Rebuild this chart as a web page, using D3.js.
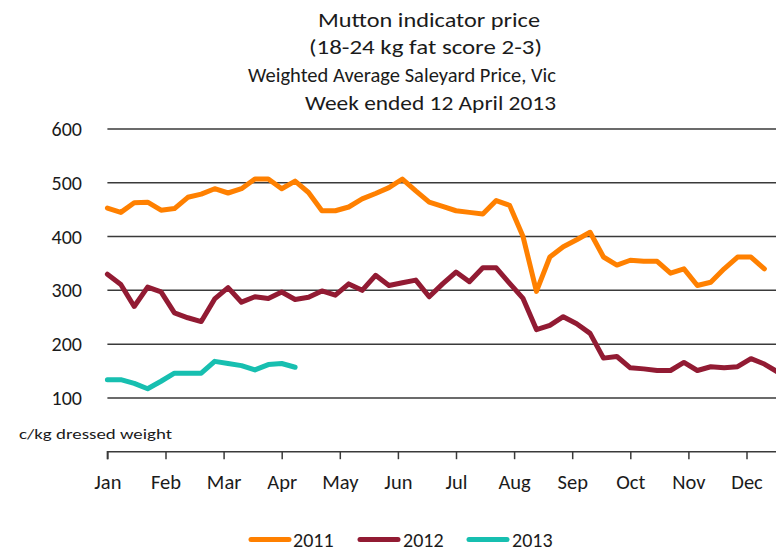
<!DOCTYPE html>
<html>
<head>
<meta charset="utf-8">
<script src="https://cdn.jsdelivr.net/npm/d3@7"></script>
<style>
  html, body { margin: 0; padding: 0; background: #fff; }
  svg { display: block; }
  text { font-family: Carlito, Lato, "Liberation Sans", sans-serif; fill: #1b1b1b; }
</style>
</head>
<body>
<svg id="chart" width="776" height="555"></svg>
<script>
// ---- Data (c/kg dressed weight, weekly) ----
const months = ["Jan","Feb","Mar","Apr","May","Jun","Jul","Aug","Sep","Oct","Nov","Dec"];
const yTicks = [100, 200, 300, 400, 500, 600];
const titleLines = [
  "Mutton indicator price",
  "(18-24 kg fat score 2-3)",
  "Weighted Average Saleyard Price, Vic",
  "Week ended 12 April 2013"
];
const seriesNames = ["2011", "2012", "2013"];
const values2011 = [453,445,463,464,449,452,473,479,489,481,489,507,507,489,503,482,448,448,455,470,
                    480,491,507,485,464,456,448,445,442,467,458,400,298,362,381,394,408,362,347,356,
                    354,354,332,340,309,315,340,362,362,340];
const values2012 = [330,311,270,306,297,258,249,242,284,305,278,288,285,297,283,287,299,291,312,300,
                    328,309,314,319,288,312,334,316,342,342,313,285,227,235,251,238,220,174,177,156,
                    154,151,151,166,151,158,156,158,173,163,148];
const values2013 = [134,134,127,117,131,146,146,146,168,164,160,152,162,164,157];
const colors = ["#ff8000", "#921b33", "#17bfb0"];

// ---- Layout ----
const svg = d3.select("#chart");
const x0 = 107.4, x1 = 804.6;        // chart extends past the right edge (cropped)
const yTop = 129, yBottom = 451.7;

const xMonth = d3.scaleLinear().domain([0, 12]).range([x0, x1]);
const xWeek  = d3.scaleLinear().domain([0, 52]).range([x0, x1]);
const y = d3.scaleLinear().domain([0, 600]).range([yBottom, yTop]);

// Title
const titleSpecs = [
  {x: 318, y: 26.5, w: 222},
  {x: 309, y: 54,   w: 233},
  {x: 248, y: 81.5, w: 308},
  {x: 305, y: 109.5, w: 251}
];
svg.append("g").selectAll("text").data(titleLines).join("text")
  .attr("x", (d, i) => titleSpecs[i].x)
  .attr("y", (d, i) => titleSpecs[i].y)
  .attr("textLength", (d, i) => titleSpecs[i].w)
  .attr("lengthAdjust", "spacingAndGlyphs")
  .style("font-size", "20px")
  .text(d => d);

// Gridlines
svg.append("g").selectAll("line").data(yTicks).join("line")
  .attr("x1", x0).attr("x2", 776)
  .attr("y1", d => y(d)).attr("y2", d => y(d))
  .attr("stroke", "#3a3a3a").attr("stroke-width", 1.5);

// Y tick labels
svg.append("g").selectAll("text").data(yTicks).join("text")
  .attr("x", 82).attr("y", d => y(d) + 7)
  .attr("text-anchor", "end")
  .style("font-size", "20px")
  .text(d => d);

// Y-axis unit label
svg.append("text")
  .attr("x", 19).attr("y", 439)
  .attr("textLength", 153).attr("lengthAdjust", "spacingAndGlyphs")
  .style("font-size", "14px")
  .text("c/kg dressed weight");

// X axis
const xAxis = d3.axisBottom(xMonth)
  .tickValues(d3.range(0, 12))
  .tickFormat(i => months[i])
  .tickSize(7.5)
  .tickPadding(15.5);
const gx = svg.append("g").attr("transform", `translate(0,${yBottom})`).call(xAxis);
gx.select(".domain").attr("stroke", "#3a3a3a").attr("stroke-width", 1.5)
  .attr("d", `M${x0},7.5V0H${x1}`);
gx.selectAll(".tick line").attr("stroke", "#3a3a3a").attr("stroke-width", 1.5);
gx.selectAll(".tick text")
  .style("font-family", "Carlito, Lato, 'Liberation Sans', sans-serif")
  .style("font-size", "20.5px").attr("fill", "#1b1b1b");

// Lines
const line = d3.line().x((d, i) => xWeek(i)).y(d => y(d));
const allSeries = [values2011, values2012, values2013];
svg.append("g").selectAll("path").data(allSeries).join("path")
  .attr("d", d => line(d))
  .attr("fill", "none")
  .attr("stroke", (d, i) => colors[i])
  .attr("stroke-width", 5)
  .attr("stroke-linejoin", "round")
  .attr("stroke-linecap", "round");

// Legend
const legendSpecs = [{lx: 251, tx: 293}, {lx: 360, tx: 403}, {lx: 469, tx: 512}];
const lg = svg.append("g");
seriesNames.forEach((name, i) => {
  lg.append("line")
    .attr("x1", legendSpecs[i].lx).attr("x2", legendSpecs[i].lx + 38)
    .attr("y1", 539.5).attr("y2", 539.5)
    .attr("stroke", colors[i]).attr("stroke-width", 5)
    .attr("stroke-linecap", "round");
  lg.append("text")
    .attr("x", legendSpecs[i].tx).attr("y", 547)
    .style("font-size", "20px")
    .text(name);
});
</script>
</body>
</html>
